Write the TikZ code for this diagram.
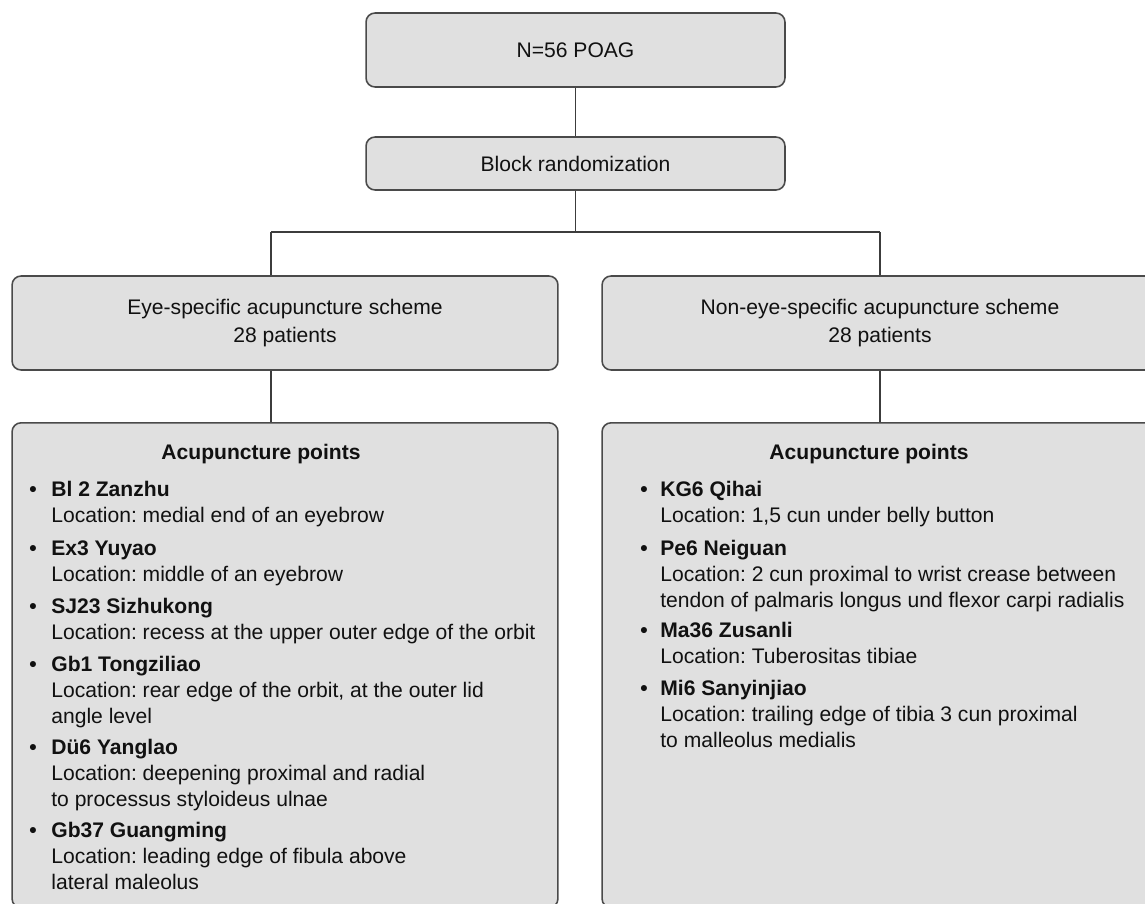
\documentclass[tikz,border=0pt]{standalone}
\usepackage{fontspec}
\setmainfont{Liberation Sans}
\usetikzlibrary{positioning}
\frenchspacing
\definecolor{ink}{HTML}{111111}
\definecolor{frame}{HTML}{4A4A4A}
\definecolor{boxfill}{HTML}{E0E0E0}
\definecolor{wire}{HTML}{3C3C3C}
\tikzset{
  basebox/.style={draw=frame,fill=boxfill,rounded corners=0.18cm,line width=0.9pt,align=center,text=ink,inner sep=0pt,font=\fontsize{12}{15.7}\selectfont},
  link/.style={draw=wire,line width=0.6pt}
}
\newcommand{\ptentry}[2]{\begin{tabular}[t]{@{}l@{}}\textbf{#1}\\#2\end{tabular}}

\begin{document}
\begin{tikzpicture}[
      x=0.02cm,y=-0.02cm,
      ptname/.style={anchor=base west,inner sep=0pt,text=ink,font=\fontsize{12}{14.8}\selectfont},
      dotmark/.style={anchor=base,inner sep=0pt,text=ink,font=\fontsize{12}{14.8}\selectfont\bfseries},
      ptitle/.style={anchor=base,inner sep=0pt,text=ink,font=\fontsize{12}{14.8}\selectfont\bfseries}
    ]
      \useasboundingbox (0,0) rectangle (1145,903);
      \clip (0,0) rectangle (1145,903);

      \node[basebox,minimum width=8.38cm,minimum height=1.48cm] (total) at (575.5,50) {N=56 POAG};
      \node[basebox,minimum width=8.38cm,minimum height=1.06cm] (block) at (575.5,163.5) {Block randomization};
      \node[basebox,minimum width=10.92cm,minimum height=1.88cm] (eye) at (285,323) {Eye-specific acupuncture scheme\\28 patients};
      \node[basebox,minimum width=11.12cm,minimum height=1.88cm] (noneye) at (880,323) {Non-eye-specific acupuncture scheme\\28 patients};
      \node[basebox,minimum width=10.92cm,minimum height=9.7cm,anchor=north] (eyepts) at (285,422) {};
      \node[basebox,minimum width=11.12cm,minimum height=9.7cm,anchor=north] (nonpts) at (880,422) {};

      \coordinate (split) at (575.5,232);
      \coordinate (lfork) at (271,232);
      \coordinate (rfork) at (880,232);
      \draw[link] (total) -- (block);
      \draw[link] (block) -- (split);
      \draw[link] (lfork) -- (rfork);
      \draw[link] (lfork) -- (lfork |- eye.north);
      \draw[link] (rfork) -- (noneye);
      \draw[link] (eye.south -| lfork) -- (eyepts.north -| lfork);
      \draw[link] (noneye) -- (nonpts);

      \node[ptitle] (eyehead) at (261,459) {Acupuncture points};
      \node[ptitle] (nonhead) at (869,459) {Acupuncture points};

      \foreach \nm/\loc/\yy [count=\i] in {
          {Bl 2 Zanzhu}/{Location: medial end of an eyebrow}/496,
          {Ex3 Yuyao}/{Location: middle of an eyebrow}/555,
          {SJ23 Sizhukong}/{Location: recess at the upper outer edge of the orbit}/613,
          {Gb1 Tongziliao}/{Location: rear edge of the orbit, at the outer lid\\angle level}/671,
          {Dü6 Yanglao}/{Location: deepening proximal and radial\\to processus styloideus ulnae}/754,
          {Gb37 Guangming}/{Location: leading edge of fibula above\\lateral maleolus}/837} {
        \node[dotmark] (eyedot\i) at (33,\yy) {•};
        \node[ptname] (eyept\i) at (51,\yy) {\ptentry{\nm}{\loc}};
      }

      \foreach \nm/\loc/\yy [count=\i] in {
          {KG6 Qihai}/{Location: 1,5 cun under belly button}/496,
          {Pe6 Neiguan}/{Location: 2 cun proximal to wrist crease between\\tendon of palmaris longus und flexor carpi radialis}/555,
          {Ma36 Zusanli}/{Location: Tuberositas tibiae}/637,
          {Mi6 Sanyinjiao}/{Location: trailing edge of tibia 3 cun proximal\\to malleolus medialis}/695} {
        \node[dotmark] (nondot\i) at (644,\yy) {•};
        \node[ptname] (nonpt\i) at (660,\yy) {\ptentry{\nm}{\loc}};
      }

    \end{tikzpicture}
\end{document}
